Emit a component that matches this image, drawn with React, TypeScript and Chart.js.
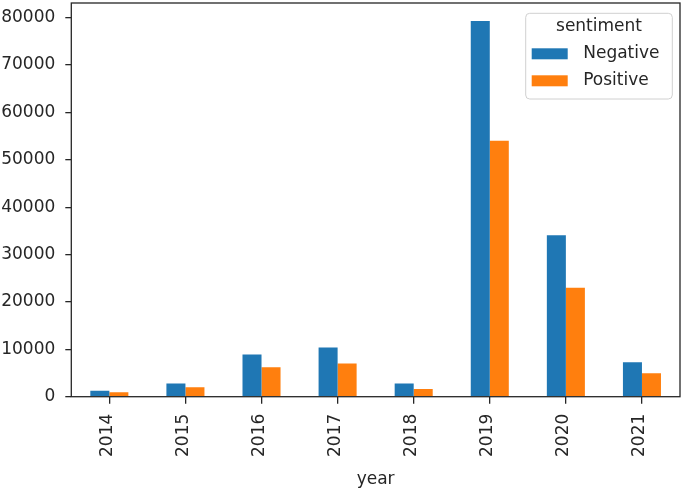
import React, { useEffect, useRef } from "react";
import { Chart, registerables } from "chart.js";

Chart.register(...registerables);

const years = ["2014", "2015", "2016", "2017", "2018", "2019", "2020", "2021"];
const negative = [1270, 2810, 8930, 10410, 2810, 79300, 34100, 7260];
const positive = [915, 1970, 6190, 7030, 1620, 54000, 23000, 4940];
const seriesNames = ["Negative", "Positive"];
const legendTitle = "sentiment";
const xTitle = "year";
const yMax = 83100;
const yTickValues = [0, 10000, 20000, 30000, 40000, 50000, 60000, 70000, 80000];

const FONT = "'DejaVu Sans', sans-serif";
const INK = "#262626";

const framePlugin = {
  id: "frame",
  afterDraw(chart: any) {
    const { ctx, chartArea } = chart;
    ctx.save();
    ctx.strokeStyle = INK;
    ctx.lineWidth = 1.3;
    ctx.strokeRect(chartArea.left, chartArea.top, chartArea.right - chartArea.left, chartArea.bottom - chartArea.top);
    ctx.restore();
  },
};

const legendPlugin = {
  id: "mplLegend",
  afterDraw(chart: any) {
    const { ctx, chartArea } = chart;
    const right = chartArea.right - 7.7;
    const left = right - 146.6;
    const top = chartArea.top + 10.3;
    const h = 85.7;
    const r = 4;
    ctx.save();
    ctx.beginPath();
    ctx.moveTo(left + r, top);
    ctx.lineTo(right - r, top);
    ctx.arcTo(right, top, right, top + r, r);
    ctx.lineTo(right, top + h - r);
    ctx.arcTo(right, top + h, right - r, top + h, r);
    ctx.lineTo(left + r, top + h);
    ctx.arcTo(left, top + h, left, top + h - r, r);
    ctx.lineTo(left, top + r);
    ctx.arcTo(left, top, left + r, top, r);
    ctx.closePath();
    ctx.fillStyle = "rgba(255,255,255,0.8)";
    ctx.fill();
    ctx.strokeStyle = "#d0d0d0";
    ctx.lineWidth = 1;
    ctx.stroke();

    ctx.font = `17px ${FONT}`;
    ctx.fillStyle = INK;
    ctx.textBaseline = "middle";
    ctx.textAlign = "center";
    ctx.fillText(legendTitle, (left + right) / 2, top + 13.7);

    ctx.textAlign = "left";
    const rows = [top + 40.5, top + 67.5];
    chart.data.datasets.forEach((ds: any, i: number) => {
      const cy = rows[i];
      ctx.fillStyle = ds.backgroundColor;
      ctx.fillRect(left + 6, cy - 5.5, 36, 11);
      ctx.fillStyle = INK;
      ctx.fillText(ds.label, left + 57.5, cy);
    });
    ctx.restore();
  },
};

export default function App() {
  const ref = useRef<HTMLCanvasElement>(null);

  useEffect(() => {
    document.body.style.margin = "0";
    const chart = new Chart(ref.current!, {
      type: "bar",
      data: {
        labels: years,
        datasets: [
          {
            label: seriesNames[0],
            data: negative,
            backgroundColor: "#1f77b4",
            categoryPercentage: 0.5,
            barPercentage: 1.0,
          },
          {
            label: seriesNames[1],
            data: positive,
            backgroundColor: "#ff7f0e",
            categoryPercentage: 0.5,
            barPercentage: 1.0,
          },
        ],
      },
      options: {
        responsive: false,
        animation: false,
        layout: { padding: { top: 3, right: 5, left: 0, bottom: 0 } },
        plugins: {
          legend: { display: false },
          tooltip: { enabled: false },
        },
        scales: {
          x: {
            offset: true,
            grid: {
              offset: false,
              drawOnChartArea: false,
              drawTicks: true,
              tickLength: 7,
              color: INK,
              lineWidth: 1.3,
            },
            border: { display: false },
            ticks: {
              minRotation: 90,
              maxRotation: 90,
              autoSkip: false,
              padding: 10,
              labelOffset: -2,
              color: INK,
              font: { family: FONT, size: 17 },
            },
            title: {
              display: true,
              text: xTitle,
              color: INK,
              font: { family: FONT, size: 17 },
              padding: { top: 0, bottom: 2 },
            },
            afterFit(scale: any) {
              scale.height = 95.3;
              scale.paddingLeft = 0;
              scale.paddingRight = 0;
            },
          },
          y: {
            min: 0,
            max: yMax,
            grid: {
              drawOnChartArea: false,
              drawTicks: true,
              tickLength: 6,
              color: INK,
              lineWidth: 1.3,
            },
            border: { display: false },
            ticks: {
              autoSkip: false,
              padding: 10,
              color: INK,
              font: { family: FONT, size: 17 },
              callback: (v: any) => String(v),
            },
            afterBuildTicks(scale: any) {
              scale.ticks = yTickValues.map((v) => ({ value: v }));
            },
            afterFit(scale: any) {
              scale.width = 71.3;
              scale.paddingTop = 0;
              scale.paddingBottom = 0;
            },
          },
        },
      },
      plugins: [framePlugin, legendPlugin],
    });
    return () => chart.destroy();
  }, []);

  return (
    <div style={{ width: 685, height: 492 }}>
      <canvas ref={ref} width={685} height={492} />
    </div>
  );
}
